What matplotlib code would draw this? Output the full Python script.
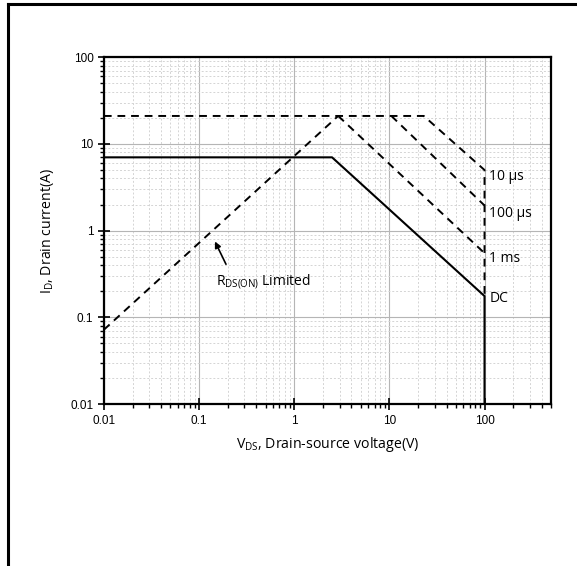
import matplotlib.pyplot as plt
from matplotlib.lines import Line2D
from matplotlib.ticker import LogLocator, FixedLocator, FixedFormatter, NullFormatter

# Safe operating area curves (V_DS in volts, I_D in amps)
rds_v = [0.01, 2.9]
rds_i = [0.072, 21]
us10_v = [0.01, 23, 100, 100]
us10_i = [21, 21, 5.0, 0.176]
us100_v = [10.5, 100]
us100_i = [21, 1.95]
ms1_v = [2.9, 100]
ms1_i = [21, 0.55]
dc_v = [0.01, 2.5, 100, 100]
dc_i = [7, 7, 0.176, 0.01]

x_ticks = [0.01, 0.1, 1, 10, 100]
x_labels = ["0.01", "0.1", "1", "10", "100"]
y_ticks = [0.01, 0.1, 1, 10, 100]
y_labels = ["0.01", "0.1", "1", "10", "100"]

curve_labels = ["10 µs", "100 µs", "1 ms", "DC"]
label_pos = [(112, 4.2), (112, 1.57), (112, 0.48), (112, 0.165)]

label_font = "Open Sans"
tick_font = "Liberation Sans"

fig = plt.figure(figsize=(5.77, 5.66), dpi=100)
ax = fig.add_axes([0.180, 0.286, 0.775, 0.613])

ax.set_xscale("log")
ax.set_yscale("log")
ax.set_xlim(0.01, 500)
ax.set_ylim(0.01, 100)

# grid
ax.grid(True, which="major", color="#b5b5b5", lw=0.8, ls="-")
ax.grid(True, which="minor", color="#d4d4d4", lw=0.7, ls=(0, (2, 2)))
ax.set_axisbelow(True)

dash = (0, (4, 3))
ax.plot(rds_v, rds_i, color="black", lw=1.4, ls=dash)
ax.plot(us10_v, us10_i, color="black", lw=1.4, ls=dash)
ax.plot(us100_v, us100_i, color="black", lw=1.4, ls=dash)
ax.plot(ms1_v, ms1_i, color="black", lw=1.4, ls=dash)
ax.plot(dc_v, dc_i, color="black", lw=1.5, ls="-")

for txt, (x, y) in zip(curve_labels, label_pos):
    ax.text(x, y, txt, fontsize=10, family=label_font, va="center", ha="left")

ax.annotate("", xy=(0.147, 0.75), xytext=(0.192, 0.41),
            arrowprops=dict(arrowstyle="-|>", color="black", lw=1.2,
                            mutation_scale=9, shrinkA=0, shrinkB=0))
ax.text(0.151, 0.26, r"$\mathregular{R_{DS(ON)}}$ Limited", fontsize=10,
        family=label_font, ha="left", va="center")

# ticks
ax.xaxis.set_major_locator(FixedLocator(x_ticks))
ax.xaxis.set_major_formatter(FixedFormatter(x_labels))
ax.yaxis.set_major_locator(FixedLocator(y_ticks))
ax.yaxis.set_major_formatter(FixedFormatter(y_labels))
ax.xaxis.set_minor_locator(LogLocator(base=10, subs=range(2, 10), numticks=20))
ax.yaxis.set_minor_locator(LogLocator(base=10, subs=range(2, 10), numticks=20))
ax.xaxis.set_minor_formatter(NullFormatter())
ax.yaxis.set_minor_formatter(NullFormatter())
ax.tick_params(which="major", direction="inout", length=8, width=1.2, labelsize=8.5)
ax.tick_params(which="minor", direction="out", length=3, width=1.0)
for lab in ax.get_xticklabels() + ax.get_yticklabels():
    lab.set_family(tick_font)

for sp in ax.spines.values():
    sp.set_linewidth(1.6)

ax.set_xlabel(r"$\mathregular{V_{DS}}$, Drain-source voltage(V)", family=label_font,
              fontsize=10.2, labelpad=6)
ax.set_ylabel(r"$\mathregular{I_D}$, Drain current(A)", family=label_font,
              fontsize=10.2, labelpad=10)

# page frame (top and left edges)
fig.add_artist(Line2D([8 / 577, 1.0], [1 - 3.5 / 566, 1 - 3.5 / 566],
                      transform=fig.transFigure, color="black", lw=2.2))
fig.add_artist(Line2D([8 / 577, 8 / 577], [0, 1 - 3.5 / 566],
                      transform=fig.transFigure, color="black", lw=2.2))

fig.savefig("out.png", dpi=100)
